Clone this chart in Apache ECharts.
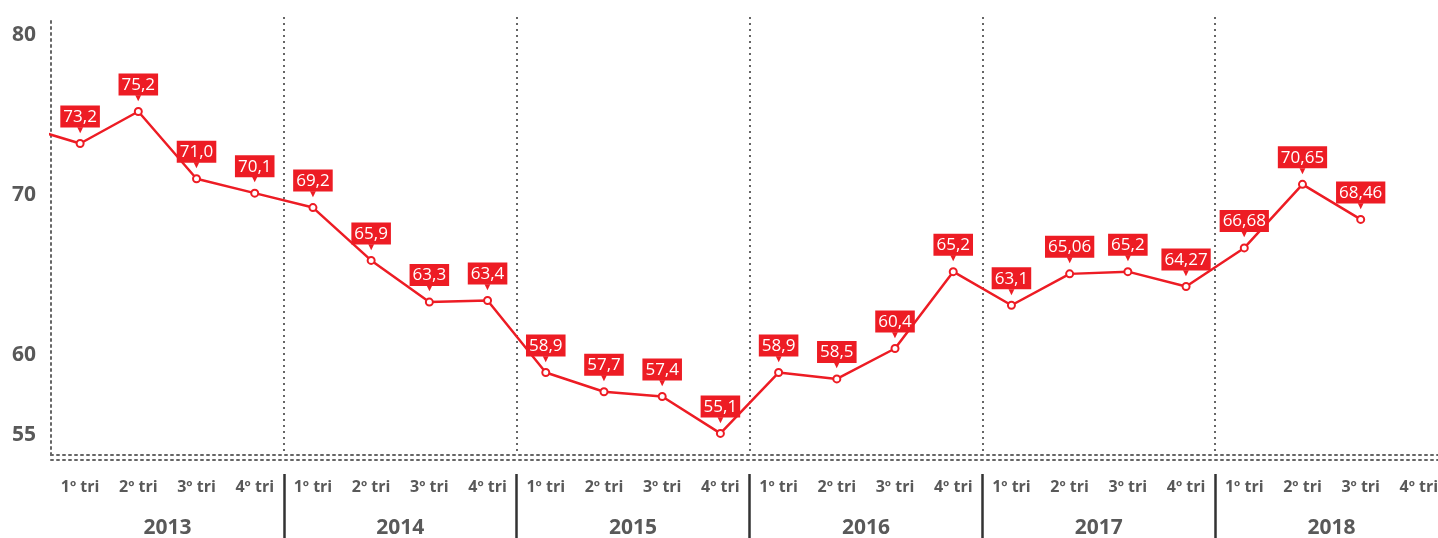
<!DOCTYPE html>
<html>
<head>
<meta charset="utf-8">
<script src="https://cdn.jsdelivr.net/npm/echarts@6/dist/echarts.min.js"></script>
<style>
html,body{margin:0;padding:0;background:#fff;}
#c{width:1438px;height:538px;}
</style>
</head>
<body>
<div id="c"></div>
<script>
var quarters = ['1º tri','2º tri','3º tri','4º tri'];
var years = ['2013','2014','2015','2016','2017','2018'];
// previous quarter (4º tri 2012) only shows as the incoming segment at the left edge
var prevValue = 74.3;
var values = [73.2,75.2,71.0,70.1, 69.2,65.9,63.3,63.4, 58.9,57.7,57.4,55.1, 58.9,58.5,60.4,65.2, 63.1,65.06,65.2,64.27, 66.68,70.65,68.46];
var valueLabels = ['73,2','75,2','71,0','70,1','69,2','65,9','63,3','63,4','58,9','57,7','57,4','55,1','58,9','58,5','60,4','65,2','63,1','65,06','65,2','64,27','66,68','70,65','68,46'];
var yTicks = [55,60,70,80];

var quarterCats = [];
years.forEach(function(){ quarters.forEach(function(q){ quarterCats.push(q); }); });

var RED = '#ED1C24';
var GREY = '#595959';
var dotted = {color:'#666', type:[2,4], width:2};

var seriesData = [{value:[-1, prevValue], label:{show:false}}];
values.forEach(function(v,i){ seriesData.push({value:[i, v], lbl: valueLabels[i]}); });

var chart = echarts.init(document.getElementById('c'));
chart.setOption({
  animation:false,
  grid:{left:51, width:1397, top:17, bottom:83, outerBoundsMode:'none', containLabel:false},
  xAxis:[
    {type:'category', data:quarterCats, position:'bottom', boundaryGap:true,
     axisLine:{show:true, onZero:false, lineStyle:dotted},
     axisTick:{show:false},
     axisLabel:{margin:24, fontSize:16, fontWeight:'bold', color:GREY, fontFamily:'Open Sans'},
     splitLine:{show:false}},
    {type:'category', data:years, position:'bottom', offset:19, boundaryGap:true,
     axisLine:{show:false, onZero:false},
     axisTick:{show:true, length:64, interval:function(i){ return i>0; }, lineStyle:{color:'#333', width:2.5}},
     axisLabel:{margin:44, fontSize:21, fontWeight:'bold', color:GREY, fontFamily:'Open Sans'},
     splitLine:{show:false}},
    {type:'category', data:years, position:'top', boundaryGap:true, show:true,
     axisLine:{show:false}, axisTick:{show:false}, axisLabel:{show:false},
     splitLine:{show:true, interval:function(i){ return i>0; }, lineStyle:dotted}},
    {type:'value', min:-0.5, max:23.5, position:'bottom', offset:5,
     axisLine:{show:true, onZero:false, lineStyle:dotted}, axisTick:{show:false}, axisLabel:{show:false},
     splitLine:{show:false}}
  ],
  yAxis:{type:'value', min:53.75, max:81.1,
    axisLine:{show:true, onZero:false, lineStyle:dotted},
    axisTick:{show:false},
    splitLine:{show:false},
    axisLabel:{customValues:yTicks, margin:15, fontSize:21, fontWeight:'bold', color:GREY, fontFamily:'Open Sans'}
  },
  series:[{
    type:'line', xAxisIndex:3, data:seriesData, clip:true,
    lineStyle:{color:RED, width:2.5},
    symbol:'circle', symbolSize:7,
    itemStyle:{color:'#fff', borderColor:RED, borderWidth:2},
    label:{show:true, position:'top', distance:5,
      formatter:function(p){ return '{b|' + p.data.lbl + '}\n{a|▼}'; },
      rich:{
        b:{backgroundColor:RED, color:'#fff', fontSize:17, fontFamily:'Open Sans', padding:[3,3,2,3], lineHeight:19},
        a:{color:RED, fontSize:10, lineHeight:8, align:'center'}
      }
    }
  }]
});
</script>
</body>
</html>
